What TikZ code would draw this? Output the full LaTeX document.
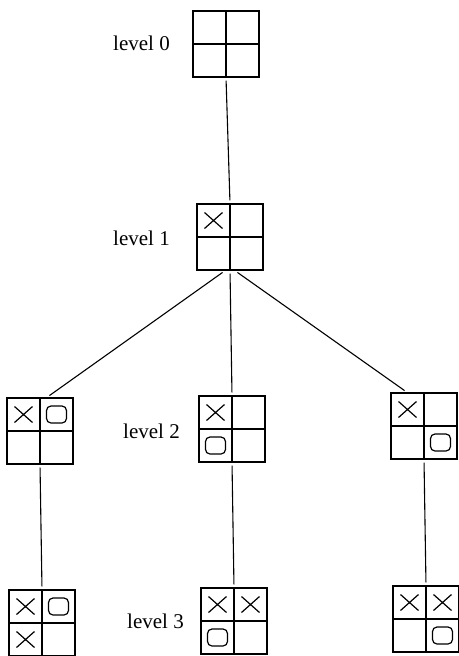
\documentclass[tikz,border=0pt]{standalone}
\usepackage{fontspec}
\setmainfont{Liberation Serif}
\usetikzlibrary{calc}

\tikzset{
  board/.style={draw, rectangle, minimum size=66pt, inner sep=0pt, line width=1.4pt},
  sign/.style={line width=1.2pt},
  link/.style={line width=1.1pt, shorten <=3pt, shorten >=3pt},
  levellabel/.style={anchor=base west, inner sep=0pt, font=\fontsize{21}{24}\selectfont}
}

% X or O in one cell: board, column (-1/1), row (-1 top, 1 bottom)
\newcommand{\markX}[3]{\draw[sign] ($(#1.center)+(#2*16.5,#3*16.5)$) +(-9,-8) -- +(9,8) +(-9,8) -- +(9,-8);}
\newcommand{\markO}[3]{\draw[sign, rounded corners=4.5pt] ($(#1.center)+(#2*16.5,#3*16.5)$) +(-10,-8.5) rectangle +(10,8.5);}

\begin{document}
\begin{tikzpicture}[x=1pt, y=-1pt]

\useasboundingbox (0,0) rectangle (458,656);

% BOARDS
\node[board] (b0) at (226,44) {};
\node[board] (b1) at (230,237) {};
\node[board] (b2a) at (40,431) {};
\node[board] (b2b) at (232,429) {};
\node[board] (b2c) at (424,426) {};
\node[board] (b3a) at (42,623) {};
\node[board] (b3b) at (234,621) {};
\node[board] (b3c) at (426,619) {};

% CELL LINES
\foreach \b in {b0,b1,b2a,b2b,b2c,b3a,b3b,b3c} {
  \draw[line width=1.4pt] (\b.north) -- (\b.south);
  \draw[line width=1.4pt] (\b.west) -- (\b.east);
}

% LABELS
\node[levellabel] (l0) at (113,50) {level 0};
\node[levellabel] (l1) at (113,245) {level 1};
\node[levellabel] (l2) at (123,438) {level 2};
\node[levellabel] (l3) at (127,628) {level 3};

% MOVES
\markX{b1}{-1}{-1}
\markX{b2a}{-1}{-1} \markO{b2a}{1}{-1}
\markX{b2b}{-1}{-1} \markO{b2b}{-1}{1}
\markX{b2c}{-1}{-1} \markO{b2c}{1}{1}
\markX{b3a}{-1}{-1} \markO{b3a}{1}{-1} \markX{b3a}{-1}{1}
\markX{b3b}{-1}{-1} \markX{b3b}{1}{-1} \markO{b3b}{-1}{1}
\markX{b3c}{-1}{-1} \markX{b3c}{1}{-1} \markO{b3c}{1}{1}

% TREE LINES
\draw[link] (b0.south) -- (b1.north);
\draw[link] ([xshift=-5pt]b1.south) -- ([xshift=7pt]b2a.north);
\draw[link] (b1.south) -- (b2b.north);
\draw[link] ([xshift=5pt]b1.south) -- ([xshift=-17pt]b2c.north);
\draw[link] (b2a.south) -- (b3a.north);
\draw[link] (b2b.south) -- (b3b.north);
\draw[link] (b2c.south) -- (b3c.north);

\end{tikzpicture}
\end{document}
